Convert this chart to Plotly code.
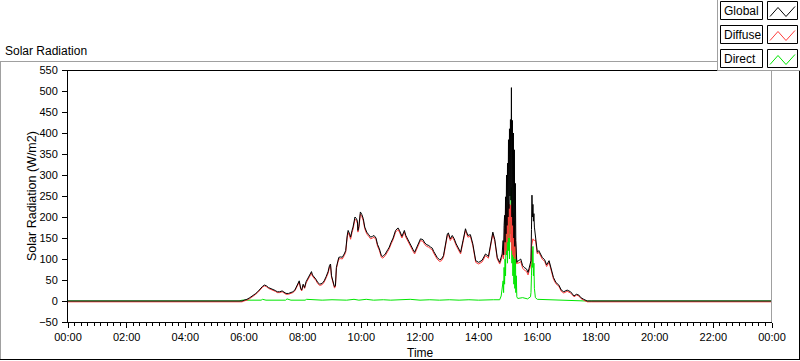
import plotly.graph_objects as go

# ---------------- data ----------------
times = [
    "00:00", "05:52", "05:56", "06:00", "06:06", "06:12", "06:18", "06:23", "06:28", "06:33",
    "06:38", "06:42", "06:46", "06:50", "06:55", "07:00", "07:04", "07:08", "07:13", "07:18",
    "07:22", "07:26", "07:31", "07:35", "07:40", "07:44", "07:48", "07:51", "07:53", "07:56",
    "07:58", "08:01", "08:04", "08:07", "08:10", "08:14", "08:18", "08:20", "08:23", "08:27",
    "08:31", "08:35", "08:40", "08:44", "08:48", "08:52", "08:55", "08:57", "08:59", "09:02",
    "09:05", "09:07", "09:09", "09:12", "09:14", "09:18", "09:21", "09:25", "09:28", "09:31",
    "09:33", "09:36", "09:38", "09:41", "09:43", "09:47", "09:50", "09:52", "09:53", "09:55",
    "09:58", "10:01", "10:04", "10:07", "10:11", "10:15", "10:19", "10:23", "10:26", "10:30",
    "10:33", "10:37", "10:41", "10:44", "10:49", "10:54", "10:57", "11:01", "11:05", "11:10",
    "11:15", "11:18", "11:20", "11:23", "11:26", "11:28", "11:31", "11:35", "11:38", "11:42",
    "11:46", "11:49", "11:54", "11:58", "12:01", "12:06", "12:10", "12:14", "12:18", "12:22",
    "12:25", "12:28", "12:31", "12:35", "12:40", "12:44", "12:48", "12:52", "12:56", "12:58",
    "13:02", "13:06", "13:10", "13:14", "13:18", "13:23", "13:28", "13:33", "13:35", "13:38",
    "13:43", "13:48", "13:54", "14:00", "14:07", "14:14", "14:20", "14:25", "14:29", "14:33",
    "14:38", "14:43", "14:46", "14:48", "14:50", "14:51", "14:52", "14:53", "14:54", "14:55",
    "14:56", "14:57", "14:58", "14:59", "15:00", "15:01", "15:02", "15:03", "15:04", "15:05",
    "15:06", "15:07", "15:08", "15:09", "15:10", "15:11", "15:12", "15:13", "15:14", "15:15",
    "15:16", "15:17", "15:18", "15:20", "15:22", "15:26", "15:30", "15:33", "15:38", "15:41",
    "15:44", "15:47", "15:48", "15:49", "15:50", "15:51", "15:52", "15:53", "15:54", "15:56",
    "16:00", "16:03", "16:06", "16:10", "16:15", "16:19", "16:24", "16:29", "16:33", "16:38",
    "16:44", "16:49", "16:54", "17:01", "17:08", "17:15", "17:20", "17:25", "17:29", "17:35",
    "17:42", "17:50", "24:00",
]

global_wm2 = [
    0, 0, 0, 2, 4, 8, 12, 17, 22, 30,
    35, 38, 36, 32, 30, 28, 25, 22, 22, 24,
    20, 18, 18, 19, 22, 26, 36, 46, 48, 30,
    26, 40, 32, 46, 52, 62, 70, 62, 58, 52,
    44, 40, 42, 48, 58, 70, 85, 88, 60, 45,
    34, 36, 80, 95, 104, 105, 104, 112, 120, 155,
    168, 160, 152, 168, 176, 200, 196, 190, 168, 178,
    212, 206, 196, 176, 164, 158, 152, 154, 156, 150,
    135, 124, 108, 106, 112, 122, 128, 140, 150, 168,
    174, 168, 160, 154, 162, 168, 156, 146, 138, 128,
    122, 116, 128, 140, 148, 146, 138, 134, 132, 128,
    126, 118, 112, 104, 98, 100, 108, 136, 160, 162,
    148, 156, 148, 136, 128, 116, 144, 172, 165, 156,
    158, 136, 96, 92, 97, 112, 106, 136, 164, 146,
    104, 92, 104, 112, 144, 110, 180, 204, 140, 248,
    160, 300, 180, 328, 200, 384, 220, 410, 250, 432,
    240, 508, 200, 430, 180, 400, 150, 360, 130, 280,
    144, 110, 92, 96, 96, 100, 84, 80, 76, 68,
    80, 96, 170, 252, 200, 230, 190, 208, 176, 160,
    116, 120, 112, 104, 98, 86, 96, 77, 56, 44,
    38, 26, 22, 26, 22, 12, 16, 14, 8, 4,
    0, 0, 0,
]

diffuse_wm2 = [
    -2, -2, -2, 0, 2, 6, 10, 15, 20, 28,
    33, 36, 34, 30, 28, 26, 23, 20, 20, 22,
    18, 16, 16, 17, 20, 24, 34, 43, 45, 28,
    24, 37, 30, 43, 49, 59, 66, 59, 55, 49,
    41, 37, 39, 45, 55, 66, 81, 84, 57, 42,
    31, 33, 77, 92, 100, 101, 100, 108, 116, 150,
    163, 155, 147, 163, 171, 195, 191, 185, 164, 173,
    207, 201, 191, 172, 160, 154, 148, 150, 152, 146,
    131, 120, 104, 102, 108, 118, 124, 136, 146, 164,
    170, 164, 156, 150, 158, 164, 152, 142, 134, 124,
    118, 112, 124, 136, 144, 142, 134, 130, 128, 124,
    122, 114, 108, 100, 94, 96, 104, 132, 156, 158,
    144, 152, 144, 132, 124, 112, 140, 168, 161, 152,
    154, 132, 92, 88, 93, 108, 102, 132, 160, 142,
    100, 88, 100, 104, 120, 100, 140, 170, 110, 232,
    120, 220, 140, 215, 160, 236, 150, 230, 190, 228,
    140, 232, 120, 210, 110, 200, 105, 180, 100, 150,
    120, 100, 88, 92, 90, 94, 78, 74, 70, 62,
    74, 88, 130, 140, 145, 148, 145, 144, 144, 146,
    112, 116, 108, 100, 94, 82, 92, 73, 52, 41,
    35, 23, 19, 23, 19, 10, 14, 12, 6, 2,
    -2, -2, -2,
]

direct_times = [
    "00:00", "05:50", "05:56", "06:35", "06:38", "06:45", "07:25", "07:28", "07:36", "08:05",
    "08:08", "08:20", "08:40", "09:00", "09:30", "09:45", "09:55", "10:10", "10:25", "10:45",
    "11:00", "11:40", "12:00", "12:20", "12:40", "13:00", "13:20", "13:40", "14:00", "14:30",
    "14:43", "14:46", "14:48", "14:50", "14:51", "14:52", "14:53", "14:54", "14:55", "14:56",
    "14:57", "14:58", "14:59", "15:00", "15:01", "15:02", "15:03", "15:04", "15:05", "15:06",
    "15:07", "15:08", "15:09", "15:10", "15:11", "15:12", "15:13", "15:14", "15:15", "15:16",
    "15:17", "15:18", "15:20", "15:30", "15:40", "15:46", "15:47", "15:48", "15:49", "15:50",
    "15:51", "15:52", "15:53", "15:54", "15:56", "16:00", "16:30", "17:00", "17:40", "24:00",
]

direct_wm2 = [
    0, 0, 2, 2, 4, 2, 2, 5, 2, 2,
    4, 3, 2, 3, 2, 4, 2, 4, 2, 3,
    2, 4, 2, 3, 2, 3, 2, 3, 2, 3,
    3, 12, 30, 48, 20, 80, 40, 100, 60, 150,
    110, 176, 90, 190, 120, 200, 100, 220, 160, 240,
    270, 90, 240, 60, 210, 40, 190, 30, 150, 20,
    60, 10, 6, 8, 5, 10, 20, 60, 120, 80,
    130, 60, 90, 30, 8, 4, 3, 2, 0, 0,
]

series_names = ["Global", "Diffuse", "Direct"]
series_colors = ["#000000", "#ff3c3c", "#00e600"]
y_ticks = list(range(-50, 551, 50))

assert len(times) == len(global_wm2) == len(diffuse_wm2)
assert len(direct_times) == len(direct_wm2)


def ts(hhmm):
    h, m = map(int, hhmm.split(":"))
    if h == 24:
        return "2024-01-02 00:00:00"
    return f"2024-01-01 {h:02d}:{m:02d}:00"


x_main = [ts(t) for t in times]
x_direct = [ts(t) for t in direct_times]

# ---------------- figure ----------------
L, R, T, B = 68, 28, 70, 39
W, H = 800, 361
PW, PH = W - L - R, H - T - B


def px(xp):
    return (xp - L) / PW


def py(yp):
    return (H - B - yp) / PH


fig = go.Figure()
fig.add_trace(go.Scatter(x=x_direct, y=direct_wm2, mode="lines", name=series_names[2],
                         line=dict(color=series_colors[2], width=1), hoverinfo="skip"))
fig.add_trace(go.Scatter(x=x_main, y=diffuse_wm2, mode="lines", name=series_names[1],
                         line=dict(color=series_colors[1], width=1), hoverinfo="skip"))
fig.add_trace(go.Scatter(x=x_main, y=global_wm2, mode="lines", name=series_names[0],
                         line=dict(color=series_colors[0], width=1), hoverinfo="skip"))

FONT = "Liberation Sans, Arial, sans-serif"

fig.update_layout(
    width=W, height=H,
    margin=dict(l=L, r=R, t=T, b=B, pad=0),
    paper_bgcolor="white", plot_bgcolor="white",
    showlegend=False,
    font=dict(family=FONT, size=11, color="#000000"),
    xaxis=dict(
        type="date", range=[ts("00:00"), ts("24:00")],
        tick0=ts("00:00"), dtick=7200000, tickformat="%H:%M",
        ticks="outside", ticklen=5, tickcolor="#000000", tickwidth=1,
        showline=True, linecolor="#000000", linewidth=1,
        showgrid=False, zeroline=False,
        tickfont=dict(family=FONT, size=11, color="#000000"),
        minor=dict(dtick=800000, tick0=ts("00:00"), ticks="outside", ticklen=3,
                   tickcolor="#000000", tickwidth=1, showgrid=False),
    ),
    yaxis=dict(
        range=[-50, 550], tickvals=y_ticks,
        ticks="outside", ticklen=5, tickcolor="#000000", tickwidth=1,
        showline=True, linecolor="#000000", linewidth=1,
        showgrid=False, zeroline=False,
        tickfont=dict(family=FONT, size=11, color="#000000"),
        ticklabelstandoff=2,
    ),
)

shapes = []
GRAY = "#a0a0a0"
# outer frame
shapes.append(dict(type="line", xref="paper", yref="paper", x0=px(0), y0=py(61.5), x1=px(717), y1=py(61.5),
                   line=dict(color=GRAY, width=1)))
shapes.append(dict(type="line", xref="paper", yref="paper", x0=px(0.5), y0=py(61.5), x1=px(0.5), y1=py(359.5),
                   line=dict(color=GRAY, width=1)))
shapes.append(dict(type="line", xref="paper", yref="paper", x0=px(0), y0=py(359.5), x1=px(800), y1=py(359.5),
                   line=dict(color="#000000", width=1)))
shapes.append(dict(type="line", xref="paper", yref="paper", x0=px(799.5), y0=py(70), x1=px(799.5), y1=py(359.5),
                   line=dict(color="#000000", width=1)))
# plot frame top and right
shapes.append(dict(type="line", xref="paper", yref="paper", x0=px(68), y0=py(70.5), x1=px(772), y1=py(70.5),
                   line=dict(color="#000000", width=1)))
shapes.append(dict(type="line", xref="paper", yref="paper", x0=px(771.5), y0=py(70), x1=px(771.5), y1=py(322),
                   line=dict(color=GRAY, width=1)))
# legend panel
shapes.append(dict(type="rect", xref="paper", yref="paper", x0=px(717.5), y0=py(-2), x1=px(802), y1=py(70.5),
                   line=dict(color=GRAY, width=1), fillcolor="white"))

row_tops = [1.5, 25.5, 49.5]
row_h = 18
annotations = []
for name, color, top in zip(series_names, series_colors, row_tops):
    shapes.append(dict(type="rect", xref="paper", yref="paper", x0=px(720.5), y0=py(top), x1=px(762.5),
                       y1=py(top + row_h), line=dict(color="#000000", width=1), fillcolor="white"))
    shapes.append(dict(type="rect", xref="paper", yref="paper", x0=px(767.5), y0=py(top), x1=px(797.5),
                       y1=py(top + row_h), line=dict(color="#000000", width=1), fillcolor="white"))
    pts = [(770, top + 15), (778, top + 6), (786, top + 15), (795, top + 5)]
    path = "M " + " L ".join(f"{px(a):.5f},{py(b):.5f}" for a, b in pts)
    shapes.append(dict(type="path", xref="paper", yref="paper", path=path,
                       line=dict(color=color, width=1)))
    annotations.append(dict(text=name, xref="paper", yref="paper", x=px(722), y=py(top + row_h / 2 + 0.5),
                            xanchor="left", yanchor="middle", showarrow=False,
                            font=dict(family=FONT, size=12, color="#000000")))

annotations.append(dict(text="Solar Radiation", xref="paper", yref="paper", x=px(3), y=py(51),
                        xanchor="left", yanchor="middle", showarrow=False,
                        font=dict(family=FONT, size=12, color="#000000")))
annotations.append(dict(text="Solar Radiation (W/m2)", xref="paper", yref="paper", x=px(32), y=py(196),
                        xanchor="center", yanchor="middle", textangle=-90, showarrow=False,
                        font=dict(family=FONT, size=12.5, color="#000000")))
annotations.append(dict(text="Time", xref="paper", yref="paper", x=px(420), y=py(353),
                        xanchor="center", yanchor="middle", showarrow=False,
                        font=dict(family=FONT, size=12, color="#000000")))

fig.update_layout(shapes=shapes, annotations=annotations)

fig.write_html(
    "out.html",
    config={"displayModeBar": False, "staticPlot": True},
    post_script="document.body.style.margin='0';document.body.style.overflow='hidden';",
)
